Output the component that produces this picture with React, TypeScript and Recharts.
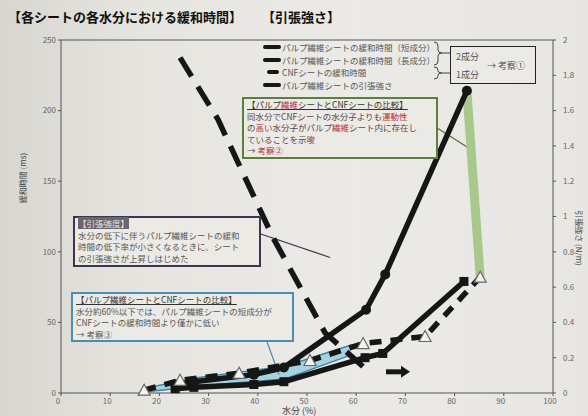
import { ComposedChart, Line, Area, Scatter, XAxis, YAxis, ReferenceLine } from "recharts"

// 水分 (%) と各シートの値（写真から読み取り）
const xTicks = [0, 10, 20, 30, 40, 50, 60, 70, 80, 90, 100]
const leftTicks = [0, 50, 100, 150, 200, 250]
const rightTicks = [0, 0.2, 0.4, 0.6, 0.8, 1, 1.2, 1.4, 1.6, 1.8, 2]

const shortX = [23.2, 27, 39.2, 45.3, 61.8, 65.4, 81.9]
const shortY = [3, 4, 6, 8, 25, 28, 79]
const longX = [23.2, 27, 39.2, 45.3, 62, 65.9, 82.5]
const longY = [6, 8, 13, 18, 59, 84, 214]
const cnfX = [16.9, 24.2, 36.2, 50.6, 61.4, 74, 85.2]
const cnfY = [2, 9, 14, 23, 35, 40, 82]
const tensileX = [24.2, 31.9, 43.1, 53.7, 62.6]
const tensileY = [1.9, 1.55, 0.88, 0.34, 0.12]
const bandX = [18, 28, 45.5, 59]
const bandLo = [1, 5, 10, 27]
const bandHi = [4, 11, 19, 34]
const greenX = [82.5, 85.2]
const greenY = [214, 82]
const arrowX = [68.5]
const arrowY = [0.12]

const zip = (xs: number[], ys: number[]) => xs.map((x, i) => ({ x, y: ys[i] }))
const shortData = zip(shortX, shortY)
const longData = zip(longX, longY)
const cnfData = zip(cnfX, cnfY)
const tensileData = zip(tensileX, tensileY)
const greenData = zip(greenX, greenY)
const arrowData = zip(arrowX, arrowY)
const bandData = bandX.map((x, i) => ({ x, range: [bandLo[i], bandHi[i]] }))

const ink = "#161616"
const font = "'Noto Sans CJK JP', 'Noto Sans', sans-serif"

const SquareDot = (p: any) =>
  p.cx == null ? null : <rect key={`s${p.index}`} x={p.cx - 4.5} y={p.cy - 4.5} width={9} height={9} fill={ink} />
const CircleDot = (p: any) =>
  p.cx == null ? null : <circle key={`c${p.index}`} cx={p.cx} cy={p.cy} r={5} fill={ink} />
const TriDot = (p: any) =>
  p.cx == null ? null : (
    <polygon
      key={`t${p.index}`}
      points={`${p.cx},${p.cy - 6} ${p.cx - 6},${p.cy + 5} ${p.cx + 6},${p.cy + 5}`}
      fill="#f3f2ee"
      stroke="#666"
      strokeWidth={1.2}
    />
  )
const ArrowShape = (p: any) => (
  <g>
    <line x1={p.cx - 12} y1={p.cy} x2={p.cx + 5} y2={p.cy} stroke={ink} strokeWidth={5} />
    <polygon points={`${p.cx + 3},${p.cy - 6} ${p.cx + 12},${p.cy} ${p.cx + 3},${p.cy + 6}`} fill={ink} />
  </g>
)

const red = "#b3303d"
const abs = (left: number, top: number, extra: any = {}) => ({ position: "absolute" as const, left, top, ...extra })

const boxText = {
  fontSize: 8.5,
  lineHeight: "11.5px",
  padding: "0px 3px",
  whiteSpace: "nowrap" as const,
  background: "#eceae5",
}

export default function App() {
  const tick = { fontSize: 8, fill: "#666", fontFamily: font }
  return (
    <div
      style={{
        position: "absolute",
        left: 0,
        top: 0,
        width: 588,
        height: 416,
        overflow: "hidden",
        fontFamily: font,
        background: "linear-gradient(90deg, #d8d6d0 0%, #e6e5e0 25%, #ebeae6 60%, #e7e6e2 100%)",
      }}
    >
      <ComposedChart width={588} height={416} margin={{ top: 40, right: 5, bottom: 7, left: 31 }}>
        <XAxis
          dataKey="x"
          type="number"
          domain={[0, 100]}
          ticks={xTicks}
          tick={{ ...tick, dx: -3 }}
          tickSize={3}
          height={16}
          stroke="#555"
        />
        <YAxis yAxisId="left" domain={[0, 250]} ticks={leftTicks} tick={tick} tickSize={3} width={30} stroke="#555" />
        <YAxis
          yAxisId="right"
          orientation="right"
          domain={[0, 2]}
          ticks={rightTicks}
          tick={{ ...tick, dx: 5 }}
          tickSize={3}
          width={30}
          stroke="#555"
        />
        <ReferenceLine yAxisId="left" y={250} stroke="#555" />
        <Area
          yAxisId="left"
          data={bandData}
          dataKey="range"
          type="linear"
          fill="#a9d2e0"
          fillOpacity={1}
          stroke="#3f86a8"
          strokeWidth={1.5}
          isAnimationActive={false}
        />
        <ReferenceLine yAxisId="left" segment={[{ x: 39.4, y: 114 }, { x: 54.7, y: 96 }]} stroke="#3d3450" strokeWidth={1.2} />
        <ReferenceLine yAxisId="left" segment={[{ x: 75.4, y: 190 }, { x: 83.1, y: 173 }]} stroke="#4f6f35" strokeWidth={1.2} />
        <ReferenceLine yAxisId="left" segment={[{ x: 41.9, y: 36 }, { x: 44.3, y: 13 }]} stroke="#3f86a8" strokeWidth={1.2} />
        <Line
          yAxisId="left"
          data={greenData}
          dataKey="y"
          stroke="#a9c98c"
          strokeWidth={9}
          dot={false}
          isAnimationActive={false}
        />
        <Line
          yAxisId="right"
          data={tensileData}
          dataKey="y"
          stroke={ink}
          strokeWidth={5.5}
          strokeDasharray="22 12"
          dot={false}
          isAnimationActive={false}
        />
        <Line
          yAxisId="left"
          data={shortData}
          dataKey="y"
          stroke={ink}
          strokeWidth={5.5}
          dot={SquareDot}
          isAnimationActive={false}
        />
        <Line
          yAxisId="left"
          data={longData}
          dataKey="y"
          stroke={ink}
          strokeWidth={5.5}
          dot={CircleDot}
          isAnimationActive={false}
        />
        <Line
          yAxisId="left"
          data={cnfData}
          dataKey="y"
          stroke={ink}
          strokeWidth={5.5}
          strokeDasharray="12 9"
          dot={TriDot}
          isAnimationActive={false}
        />
        <Scatter yAxisId="right" data={arrowData} dataKey="y" shape={ArrowShape} isAnimationActive={false} />
      </ComposedChart>

      {/* タイトル */}
      <div style={abs(8, 7, { fontSize: 13, fontWeight: 700, color: "#111", whiteSpace: "nowrap" })}>
        【各シートの各水分における緩和時間】
      </div>
      <div style={abs(262, 7, { fontSize: 13, fontWeight: 700, color: "#111", whiteSpace: "nowrap" })}>【引張強さ】</div>

      {/* 軸ラベル */}
      <div
        style={abs(22, 178, {
          fontSize: 8,
          color: "#444",
          whiteSpace: "nowrap",
          transform: "translate(-50%, -50%) rotate(-90deg)",
        })}
      >
        緩和時間 (ms)
      </div>
      <div
        style={abs(579, 238, {
          fontSize: 8,
          color: "#444",
          whiteSpace: "nowrap",
          transform: "translate(-50%, -50%) rotate(90deg)",
        })}
      >
        引張強さ (N/m)
      </div>
      <div style={abs(282, 405, { fontSize: 9, color: "#444", whiteSpace: "nowrap", lineHeight: "11px" })}>水分 (%)</div>

      {/* 凡例 */}
      {[
        "パルプ繊維シートの緩和時間（短成分）",
        "パルプ繊維シートの緩和時間（長成分）",
        "CNFシートの緩和時間",
        "パルプ繊維シートの引張強さ",
      ].map((t, i) => (
        <div key={t} style={abs(263, 41 + i * 12.5, { display: "flex", alignItems: "center", height: 12, whiteSpace: "nowrap" })}>
          <div
            style={{
              width: i === 2 ? 12 : 18,
              marginLeft: i === 2 ? 4 : 0,
              marginRight: i === 2 ? 2 : 0,
              height: 4,
              background: ink,
              borderRadius: 2,
            }}
          />
          <span style={{ fontSize: 8.5, color: "#555", marginLeft: 1 }}>{t}</span>
        </div>
      ))}
      <svg style={abs(432, 40)} width={20} height={42}>
        <path d="M2,2 Q6,2 6,6 L6,10 Q6,13 10,13 Q6,13 6,16 L6,21 Q6,25 2,25" fill="none" stroke="#444" strokeWidth={1} />
        <path d="M2,27 Q6,27 6,30 L6,31 Q6,33 10,33 Q6,33 6,35 L6,36 Q6,39 2,39" fill="none" stroke="#444" strokeWidth={1} />
        <line x1={10} y1={13} x2={18} y2={13} stroke="#444" strokeWidth={1} />
        <line x1={10} y1={33} x2={18} y2={33} stroke="#444" strokeWidth={1} />
      </svg>
      <div style={abs(450, 46, { width: 84, height: 36, border: "1.5px solid #222", background: "#ebeae6" })} />
      <div style={abs(456, 50, { fontSize: 9, color: "#555", whiteSpace: "nowrap" })}>2成分</div>
      <div style={abs(456, 68, { fontSize: 9, color: "#555", whiteSpace: "nowrap" })}>1成分</div>
      <div style={abs(487, 59, { fontSize: 9, color: "#555", whiteSpace: "nowrap" })}>→ 考察①</div>

      {/* 比較（緑） */}
      <div style={abs(242, 97, { ...boxText, width: 186, height: 58, border: "2px solid #5b7f3c", color: "#5a4650" })}>
        <div style={{ color: "#333", textDecoration: "underline" }}>
          【パルプ<span style={{ color: red }}>繊維</span>シートとCNFシートの比較】
        </div>
        <div>
          　同水分でCNFシートの水分子よりも<span style={{ color: red }}>運動性</span>
        </div>
        <div>
          の<span style={{ color: red }}>高い</span>水分子がパルプ<span style={{ color: red }}>繊維</span>シート内に存在し
        </div>
        <div>ていることを示唆</div>
        <div>
          → <span style={{ color: red }}>考察②</span>
        </div>
      </div>

      {/* 引張強度 */}
      <div style={abs(73, 216, { ...boxText, width: 178, height: 47, border: "2px solid #3d3450", color: "#555" })}>
        <div>
          <span style={{ background: "#6a6670", color: "#e8e6e2" }}>【引張強度】</span>
        </div>
        <div>水分の低下に伴うパルプ繊維シートの緩和</div>
        <div>時間の低下率が小さくなるときに、シート</div>
        <div>の引張強さが上昇しはじめた</div>
      </div>

      {/* 比較（青） */}
      <div style={abs(71, 292, { ...boxText, width: 213, height: 46, border: "2px solid #4a8db5", color: "#555" })}>
        <div style={{ color: "#333", textDecoration: "underline" }}>【パルプ繊維シートとCNFシートの比較】</div>
        <div>水分約60%以下では、パルプ繊維シートの短成分が</div>
        <div>CNFシートの緩和時間より僅かに低い</div>
        <div>→ 考察③</div>
      </div>
    </div>
  )
}
